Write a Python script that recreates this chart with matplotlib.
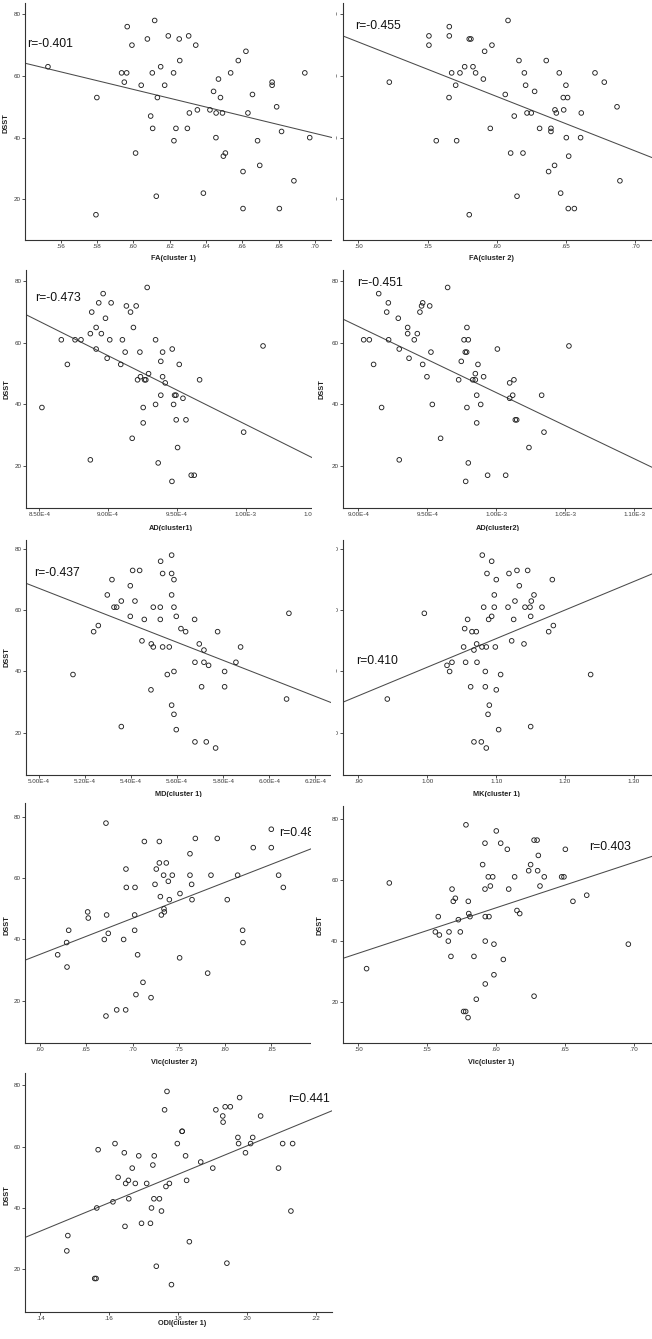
import numpy as np
import matplotlib
matplotlib.use('Agg')
import matplotlib.pyplot as plt
from matplotlib.transforms import Bbox, TransformedBbox

plt.rcParams['font.family'] = ['Liberation Sans', 'DejaVu Sans']

# ---------------- data ----------------
fa1_x = [0.5531, 0.5800, 0.5795, 0.5967, 0.5993, 0.5936, 0.5964, 0.5951, 0.6013, 0.6044,
         0.6078, 0.6118, 0.6096, 0.6107, 0.6105, 0.6151, 0.6133, 0.6127, 0.6173, 0.6193,
         0.6222, 0.6235, 0.6224, 0.6253, 0.6256, 0.6305, 0.6309, 0.6298, 0.6344, 0.6353,
         0.6386, 0.6422, 0.6442, 0.6469, 0.6456, 0.6455, 0.6480, 0.6491, 0.6496, 0.6507,
         0.6536, 0.6578, 0.6620, 0.6631, 0.6604, 0.6604, 0.6656, 0.6684, 0.6696, 0.6764,
         0.6764, 0.6789, 0.6816, 0.6804, 0.6884, 0.6944, 0.6971]
fa1_dsst = [63, 53, 15, 76, 70, 61, 61, 58, 35, 57, 72, 78, 47, 43, 61, 63, 53, 21, 57, 73,
            61, 43, 39, 72, 65, 73, 48, 43, 70, 49, 22, 49, 55, 59, 48, 40, 53, 48, 34, 35,
            61, 65, 68, 48, 29, 17, 54, 39, 31, 58, 57, 50, 42, 17, 26, 61, 40]

fa2_x = [0.5224, 0.5510, 0.5510, 0.5563, 0.5657, 0.5657, 0.5655, 0.5674, 0.5703, 0.5710,
         0.5734, 0.5768, 0.5801, 0.5813, 0.5801, 0.5828, 0.5847, 0.5903, 0.5912, 0.5953,
         0.5965, 0.6061, 0.6081, 0.6100, 0.6126, 0.6146, 0.6160, 0.6189, 0.6199, 0.6208,
         0.6218, 0.6249, 0.6273, 0.6309, 0.6357, 0.6374, 0.6391, 0.6391, 0.6417, 0.6420,
         0.6430, 0.6451, 0.6461, 0.6480, 0.6483, 0.6499, 0.6502, 0.6511, 0.6519, 0.6516,
         0.6560, 0.6605, 0.6610, 0.6709, 0.6776, 0.6868, 0.6889]
fa2_dsst = [58, 73, 70, 39, 76, 73, 53, 61, 57, 39, 61, 63, 72, 72, 15, 63, 61, 59, 68, 43,
            70, 54, 78, 35, 47, 21, 65, 35, 61, 57, 48, 48, 55, 43, 65, 29, 42, 43, 31, 49,
            48, 61, 22, 53, 49, 57, 40, 53, 34, 17, 17, 40, 48, 61, 58, 50, 26]

ad1_x_e4 = [8.519, 8.660, 8.704, 8.760, 8.803, 8.871, 8.881, 8.871, 8.913, 8.913,
            8.932, 8.951, 8.964, 8.981, 8.993, 9.012, 9.022, 9.092, 9.104, 9.124,
            9.133, 9.163, 9.175, 9.184, 9.204, 9.214, 9.231, 9.235, 9.255, 9.255,
            9.265, 9.274, 9.284, 9.294, 9.345, 9.345, 9.364, 9.383, 9.383, 9.396,
            9.396, 9.415, 9.466, 9.464, 9.476, 9.483, 9.493, 9.495, 9.505, 9.517,
            9.544, 9.566, 9.604, 9.626, 9.665, 9.985, 10.126]
ad1_dsst = [39, 61, 53, 61, 61, 63, 70, 22, 65, 58, 73, 63, 76, 68, 55, 61, 73, 53, 61, 57,
            72, 70, 29, 65, 72, 48, 57, 49, 39, 34, 48, 48, 78, 50, 61, 40, 21, 54, 43, 57,
            49, 47, 58, 15, 40, 43, 43, 35, 26, 53, 42, 35, 17, 17, 48, 31, 59]

ad2_x_e4 = [9.039, 9.080, 9.111, 9.148, 9.169, 9.206, 9.218, 9.220, 9.290, 9.297,
            9.297, 9.358, 9.358, 9.368, 9.406, 9.428, 9.447, 9.459, 9.467, 9.467,
            9.498, 9.518, 9.527, 9.537, 9.597, 9.648, 9.728, 9.747, 9.767, 9.776,
            9.786, 9.779, 9.788, 9.788, 9.798, 9.798, 9.830, 9.849, 9.849, 9.859,
            9.859, 9.868, 9.888, 9.909, 9.938, 10.009, 10.069, 10.098, 10.098, 10.120,
            10.129, 10.139, 10.149, 10.238, 10.330, 10.347, 10.528]
ad2_dsst = [61, 61, 53, 76, 39, 70, 73, 61, 68, 22, 58, 65, 63, 55, 61, 63, 70, 72, 73, 53,
            49, 72, 57, 40, 29, 78, 48, 54, 61, 57, 57, 15, 65, 39, 61, 21, 48, 48, 50, 34,
            43, 53, 40, 49, 17, 58, 17, 47, 42, 43, 48, 35, 35, 26, 43, 31, 59]

md1_x_e4 = [5.1476, 5.2373, 5.2576, 5.2967, 5.3169, 5.3256, 5.3372, 5.3575, 5.3575, 5.3965,
            5.3965, 5.4067, 5.4168, 5.4371, 5.4472, 5.4573, 5.4863, 5.4877, 5.4964, 5.4964,
            5.5268, 5.5268, 5.5282, 5.5369, 5.5369, 5.5572, 5.5658, 5.5760, 5.5760, 5.5760,
            5.5760, 5.5861, 5.5861, 5.5861, 5.5861, 5.5962, 5.5962, 5.6165, 5.6368, 5.6758,
            5.6773, 5.6773, 5.6961, 5.7062, 5.7164, 5.7164, 5.7265, 5.7366, 5.7670, 5.7757,
            5.8061, 5.8061, 5.8553, 5.8755, 6.0752, 6.0854]
md1_dsst = [39, 53, 55, 65, 70, 61, 61, 63, 22, 58, 68, 73, 63, 73, 50, 57, 34, 49, 61, 48,
            61, 57, 76, 72, 48, 39, 48, 78, 72, 65, 29, 70, 61, 40, 26, 58, 21, 54, 53, 57,
            43, 17, 49, 35, 47, 43, 17, 42, 15, 53, 40, 35, 43, 48, 31, 59]

mk1_x = [0.9421, 0.9958, 1.0287, 1.0325, 1.0359, 1.0528, 1.0543, 1.0557, 1.0586, 1.0630,
         1.0649, 1.0678, 1.0678, 1.0712, 1.0717, 1.0722, 1.0785, 1.0794, 1.0799, 1.0819,
         1.0843, 1.0843, 1.0857, 1.0857, 1.0867, 1.0882, 1.0891, 1.0901, 1.0935, 1.0935,
         1.0973, 1.0973, 1.0988, 1.1002, 1.1002, 1.1036, 1.1065, 1.1172, 1.1186, 1.1225,
         1.1254, 1.1273, 1.1302, 1.1336, 1.1404, 1.1418, 1.1457, 1.1491, 1.1501, 1.1501,
         1.1510, 1.1549, 1.1665, 1.1762, 1.1815, 1.1830, 1.2371]
mk1_dsst = [31, 59, 42, 40, 43, 48, 54, 43, 57, 35, 53, 47, 17, 53, 49, 43, 17, 48, 78, 61,
            40, 35, 48, 15, 72, 26, 57, 29, 58, 76, 65, 61, 48, 70, 34, 21, 39, 61, 72, 50,
            57, 63, 73, 68, 49, 61, 73, 61, 58, 22, 63, 65, 61, 53, 70, 55, 39]

vic2_x = [0.6191, 0.6288, 0.6292, 0.6310, 0.6515, 0.6522, 0.6695, 0.6713, 0.6713, 0.6720,
          0.6738, 0.6829, 0.6904, 0.6929, 0.6933, 0.6926, 0.7023, 0.7023, 0.7027, 0.7037,
          0.7055, 0.7113, 0.7128, 0.7200, 0.7243, 0.7257, 0.7290, 0.7290, 0.7301, 0.7312,
          0.7336, 0.7340, 0.7344, 0.7365, 0.7387, 0.7398, 0.7430, 0.7509, 0.7513, 0.7621,
          0.7621, 0.7639, 0.7643, 0.7679, 0.7812, 0.7848, 0.7916, 0.8024, 0.8136, 0.8190,
          0.8194, 0.8305, 0.8500, 0.8500, 0.8579, 0.8630]
vic2_dsst = [35, 39, 31, 43, 49, 47, 40, 78, 15, 48, 42, 17, 40, 63, 57, 17, 48, 43, 57, 22,
             35, 26, 72, 21, 58, 63, 72, 65, 54, 48, 61, 50, 49, 65, 59, 53, 61, 34, 55, 68,
             61, 58, 53, 73, 29, 61, 73, 53, 61, 43, 39, 70, 76, 70, 61, 57]

vic1_x = [0.5060, 0.5225, 0.5559, 0.5580, 0.5588, 0.5653, 0.5658, 0.5672, 0.5680, 0.5689,
          0.5704, 0.5726, 0.5740, 0.5764, 0.5779, 0.5781, 0.5798, 0.5801, 0.5796, 0.5810,
          0.5839, 0.5856, 0.5902, 0.5919, 0.5919, 0.5921, 0.5921, 0.5921, 0.5943, 0.5948,
          0.5958, 0.5975, 0.5984, 0.5984, 0.6001, 0.6033, 0.6052, 0.6081, 0.6091, 0.6134,
          0.6151, 0.6171, 0.6236, 0.6250, 0.6275, 0.6275, 0.6297, 0.6301, 0.6306, 0.6318,
          0.6349, 0.6475, 0.6492, 0.6502, 0.6557, 0.6657, 0.6959]
vic1_dsst = [31, 59, 43, 48, 42, 40, 43, 35, 57, 53, 54, 47, 43, 17, 17, 78, 53, 49, 15, 48,
             35, 21, 65, 57, 72, 48, 40, 26, 61, 48, 58, 61, 39, 29, 76, 72, 34, 70, 57, 61,
             50, 49, 63, 65, 22, 73, 73, 63, 68, 58, 61, 61, 61, 70, 53, 55, 39]

odi1_x = [0.1477, 0.1480, 0.1558, 0.1562, 0.1564, 0.1568, 0.1611, 0.1617, 0.1626, 0.1644,
          0.1646, 0.1648, 0.1656, 0.1657, 0.1667, 0.1676, 0.1686, 0.1694, 0.1709, 0.1720,
          0.1723, 0.1727, 0.1730, 0.1731, 0.1737, 0.1746, 0.1752, 0.1761, 0.1765, 0.1768,
          0.1775, 0.1781, 0.1798, 0.1812, 0.1812, 0.1822, 0.1825, 0.1833, 0.1866, 0.1901,
          0.1910, 0.1930, 0.1931, 0.1937, 0.1942, 0.1952, 0.1974, 0.1976, 0.1979, 0.1996,
          0.2011, 0.2017, 0.2040, 0.2092, 0.2104, 0.2128, 0.2133]
odi1_dsst = [26, 31, 17, 17, 40, 59, 42, 61, 50, 58, 34, 48, 49, 43, 53, 48, 57, 35, 48, 35,
             40, 54, 43, 57, 21, 43, 39, 72, 47, 78, 48, 15, 61, 65, 65, 57, 49, 29, 55, 53,
             72, 70, 68, 73, 22, 73, 63, 61, 76, 58, 61, 63, 70, 53, 61, 39, 61]

r_labels = ['r=-0.401', 'r=-0.455', 'r=-0.473', 'r=-0.451', 'r=-0.437',
            'r=0.410', 'r=0.48', 'r=0.403', 'r=0.441']
x_titles = ['FA(cluster 1)', 'FA(cluster 2)', 'AD(cluster1)', 'AD(cluster2)',
            'MD(cluster 1)', 'MK(cluster 1)', 'Vic(cluster 2)', 'Vic(cluster 1)', 'ODI(cluster 1)']
y_title = 'DSST'

y_ticks = [20, 40, 60, 80]
y_ticklabels = ['20', '40', '60', '80']

fa1_ticks = [0.56, 0.58, 0.60, 0.62, 0.64, 0.66, 0.68, 0.70]
fa1_ticklabels = ['.56', '.58', '.60', '.62', '.64', '.66', '.68', '.70']
fa2_ticks = [0.50, 0.55, 0.60, 0.65, 0.70]
fa2_ticklabels = ['.50', '.55', '.60', '.65', '.70']
ad1_ticks = [8.5e-4, 9.0e-4, 9.5e-4, 1.0e-3, 1.05e-3]
ad1_ticklabels = ['8.50E-4', '9.00E-4', '9.50E-4', '1.00E-3', '1.05E-3']
ad2_ticks = [9.0e-4, 9.5e-4, 1.0e-3, 1.05e-3, 1.10e-3]
ad2_ticklabels = ['9.00E-4', '9.50E-4', '1.00E-3', '1.05E-3', '1.10E-3']
md1_ticks = [5.0e-4, 5.2e-4, 5.4e-4, 5.6e-4, 5.8e-4, 6.0e-4, 6.2e-4]
md1_ticklabels = ['5.00E-4', '5.20E-4', '5.40E-4', '5.60E-4', '5.80E-4', '6.00E-4', '6.20E-4']
mk1_ticks = [0.90, 1.00, 1.10, 1.20, 1.30]
mk1_ticklabels = ['.90', '1.00', '1.10', '1.20', '1.30']
vic2_ticks = [0.60, 0.65, 0.70, 0.75, 0.80, 0.85]
vic2_ticklabels = ['.60', '.65', '.70', '.75', '.80', '.85']
vic1_ticks = [0.50, 0.55, 0.60, 0.65, 0.70]
vic1_ticklabels = ['.50', '.55', '.60', '.65', '.70']
odi1_ticks = [0.14, 0.16, 0.18, 0.20, 0.22]
odi1_ticklabels = ['.14', '.16', '.18', '.20', '.22']

# ---------------- layout (pixels, y measured from top) ----------------
W, H = 652, 1339
fig = plt.figure(figsize=(W / 100, H / 100), dpi=100)
fig.patch.set_facecolor('white')

def pbox(x0, x1, yt, yb):
    return TransformedBbox(Bbox.from_extents(x0 / W, 1 - yb / H, x1 / W, 1 - yt / H),
                           fig.transFigure)

def lim(ref, e0, e1):
    v1, p1, v2, p2 = ref
    k = (v2 - v1) / (p2 - p1)
    return v1 + (e0 - p1) * k, v1 + (e1 - p1) * k

panels = [
    dict(x=np.array(fa1_x), y=fa1_dsst, ticks=fa1_ticks, tl=fa1_ticklabels,
         box=(25.3, 332, 3, 240), tile=(0, 332, 0, 263),
         xref=(0.56, 60.5, 0.70, 315.0), yref=(80, 14.3, 20, 199.3),
         rpos=(27, 44.3), xlab=(173.5, 259), ylab=(6.5, 123)),
    dict(x=np.array(fa2_x), y=fa2_dsst, ticks=fa2_ticks, tl=fa2_ticklabels,
         box=(342.5, 652, 3, 240), tile=(336, 652, 0, 263),
         xref=(0.50, 358.3, 0.70, 635.3), yref=(80, 14.3, 20, 199.3),
         rpos=(355.3, 25.7), xlab=(491.5, 259), ylab=(322, 123)),
    dict(x=np.array(ad1_x_e4) * 1e-4, y=ad1_dsst, ticks=ad1_ticks, tl=ad1_ticklabels,
         box=(26, 335, 270, 507.7), tile=(0, 311.5, 263, 531),
         xref=(8.5e-4, 39.3, 1.0e-3, 245.7), yref=(80, 281.3, 20, 466.0),
         rpos=(35, 298.3), xlab=(170.8, 528.3), ylab=(6.7, 389)),
    dict(x=np.array(ad2_x_e4) * 1e-4, y=ad2_dsst, ticks=ad2_ticks, tl=ad2_ticklabels,
         box=(343.3, 652, 270, 507.7), tile=(311.5, 652, 263, 531),
         xref=(9.0e-4, 358.3, 1.10e-3, 634.0), yref=(80, 281.3, 20, 466.0),
         rpos=(356.7, 283.3), xlab=(497.7, 528.3), ylab=(322, 389)),
    dict(x=np.array(md1_x_e4) * 1e-4, y=md1_dsst, ticks=md1_ticks, tl=md1_ticklabels,
         box=(26, 340, 540, 775), tile=(0, 331, 531, 797),
         xref=(5.0e-4, 39.0, 6.2e-4, 315.3), yref=(80, 549.0, 20, 732.7),
         rpos=(34.3, 572.7), xlab=(178.7, 795), ylab=(6.7, 656.7)),
    dict(x=np.array(mk1_x), y=mk1_dsst, ticks=mk1_ticks, tl=mk1_ticklabels,
         box=(342.7, 652, 540, 775), tile=(336, 652, 531, 797),
         xref=(0.90, 358.3, 1.30, 634.0), yref=(80, 549.0, 20, 732.7),
         rpos=(356, 660.7), xlab=(496.3, 795), ylab=(322, 656.7)),
    dict(x=np.array(vic2_x), y=vic2_dsst, ticks=vic2_ticks, tl=vic2_ticklabels,
         box=(25, 335, 803, 1043), tile=(0, 311, 797, 1066),
         xref=(0.60, 40.0, 0.85, 271.3), yref=(80, 817.0, 20, 1000.7),
         rpos=(279.5, 832.7), xlab=(174, 1063), ylab=(6.7, 925)),
    dict(x=np.array(vic1_x), y=vic1_dsst, ticks=vic1_ticks, tl=vic1_ticklabels,
         box=(342.7, 652, 806, 1043), tile=(311, 652, 797, 1066),
         xref=(0.50, 358.3, 0.70, 634.0), yref=(80, 818.7, 20, 1002.3),
         rpos=(589.3, 847.3), xlab=(491, 1063), ylab=(320.5, 925)),
    dict(x=np.array(odi1_x), y=odi1_dsst, ticks=odi1_ticks, tl=odi1_ticklabels,
         box=(25, 331.7, 1073, 1311.7), tile=(0, 336, 1066, 1339),
         xref=(0.14, 40.3, 0.22, 315.7), yref=(80, 1085.3, 20, 1269.3),
         rpos=(288.3, 1099.3), xlab=(182.5, 1323.3), ylab=(6.7, 1195)),
]

AX_COL = '#333333'
for i, p in enumerate(panels):
    x0, x1, yt, yb = p['box']
    tx0, tx1, tyt, tyb = p['tile']
    tilebb = pbox(*p['tile'])
    inter = pbox(max(x0, tx0), min(x1, tx1), max(yt, tyt), min(yb, tyb))

    ax = fig.add_axes([x0 / W, 1 - yb / H, (x1 - x0) / W, (yb - yt) / H])
    ax.set_facecolor('none')
    ax.set_xlim(*lim(p['xref'], x0, x1))
    ax.set_ylim(*lim(p['yref'], yb, yt))

    for s in ('top', 'right'):
        ax.spines[s].set_visible(False)
    for s in ('left', 'bottom'):
        ax.spines[s].set_color(AX_COL)
        ax.spines[s].set_linewidth(0.8)
        ax.spines[s].set_clip_box(tilebb)
        ax.spines[s].set_clip_on(True)

    ax.set_xticks(p['ticks'], p['tl'])
    ax.set_yticks(y_ticks, y_ticklabels)
    ax.tick_params(direction='out', length=2.2, width=0.6, color=AX_COL,
                   labelsize=4.5, labelcolor='#3a3a3a', pad=1.0)
    for t in ax.xaxis.get_major_ticks() + ax.yaxis.get_major_ticks():
        for a in (t.label1, t.tick1line):
            a.set_clip_box(tilebb)
            a.set_clip_on(True)

    xv = np.asarray(p['x'], dtype=float)
    yv = np.asarray(p['y'], dtype=float)
    sc = ax.scatter(xv, yv, s=11, facecolors='none', edgecolors='#222222',
                    linewidths=0.65, zorder=3)
    sc.set_clip_box(inter)

    coef = np.polyfit(xv, yv, 1)
    xs = np.array(ax.get_xlim())
    ln, = ax.plot(xs, np.polyval(coef, xs), color='#4a4a4a', lw=0.75, zorder=2)
    ln.set_clip_box(inter)

    rx, ry = p['rpos']
    t1 = fig.text(rx / W, 1 - ry / H, r_labels[i], fontsize=8.8, color='#111111',
                  ha='left', va='center', clip_on=True)
    t1.set_clip_box(tilebb)

    lx, ly = p['xlab']
    t2 = fig.text(lx / W, 1 - ly / H, x_titles[i], fontsize=5.3, fontweight='bold',
                  color='#222222', ha='center', va='center', clip_on=True)
    t2.set_clip_box(tilebb)

    yx, yy = p['ylab']
    t3 = fig.text(yx / W, 1 - yy / H, y_title, fontsize=5.3, fontweight='bold',
                  color='#222222', ha='center', va='center', rotation=90, clip_on=True)
    t3.set_clip_box(tilebb)

fig.savefig('out.png', dpi=100, facecolor='white')
